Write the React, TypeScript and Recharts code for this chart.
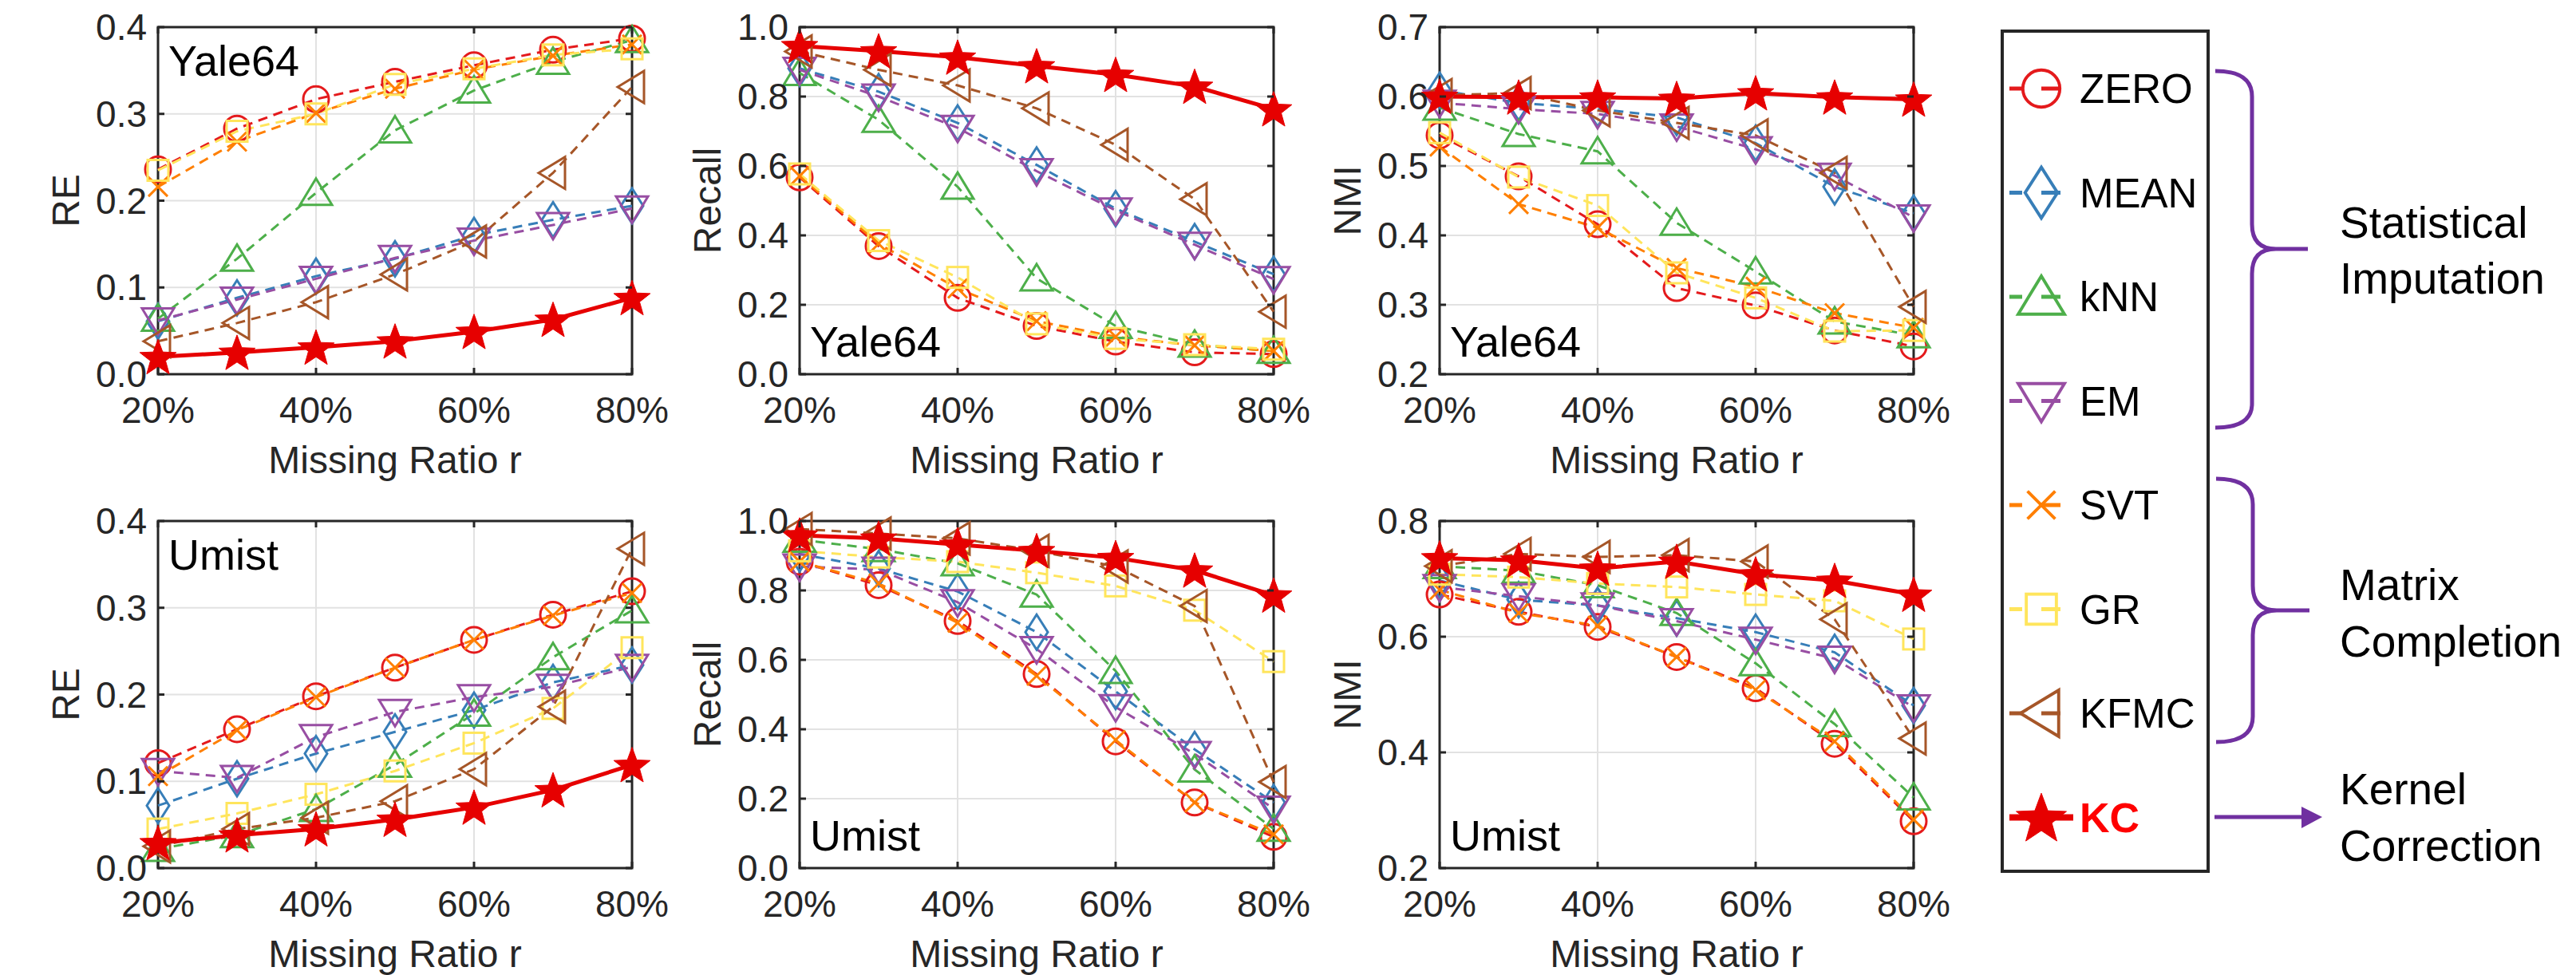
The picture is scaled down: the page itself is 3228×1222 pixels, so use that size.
import React from 'react';
import { LineChart, Line, XAxis, YAxis, CartesianGrid, ReferenceArea } from 'recharts';

// ---------- data ----------
const ratios = [20, 30, 40, 50, 60, 70, 80];
const xTicks = [20, 40, 60, 80];
const methodNames = ['ZERO', 'MEAN', 'kNN', 'EM', 'SVT', 'GR', 'KFMC', 'KC'];
const methodColors = ['#e41a1c', '#377eb8', '#4daf4a', '#984ea3', '#ff7f00', '#ffe55c', '#a65628', '#e60000'];
const methodShapes = ['circle', 'diamond', 'triUp', 'triDown', 'cross', 'square', 'triLeft', 'star'];

// Yale64 - RE
const yaleRE_ZERO = [0.236, 0.283, 0.317, 0.337, 0.356, 0.374, 0.387];
const yaleRE_MEAN = [0.061, 0.088, 0.113, 0.133, 0.160, 0.178, 0.194];
const yaleRE_kNN = [0.064, 0.133, 0.209, 0.281, 0.327, 0.360, 0.385];
const yaleRE_EM = [0.062, 0.086, 0.110, 0.134, 0.154, 0.172, 0.191];
const yaleRE_SVT = [0.216, 0.268, 0.301, 0.329, 0.351, 0.367, 0.380];
const yaleRE_GR = [0.235, 0.280, 0.300, 0.334, 0.352, 0.368, 0.375];
const yaleRE_KFMC = [0.038, 0.059, 0.083, 0.115, 0.153, 0.232, 0.331];
const yaleRE_KC = [0.020, 0.025, 0.031, 0.038, 0.049, 0.063, 0.088];

// Yale64 - Recall
const yaleRec_ZERO = [0.567, 0.369, 0.220, 0.139, 0.094, 0.063, 0.058];
const yaleRec_MEAN = [0.881, 0.814, 0.724, 0.603, 0.477, 0.382, 0.288];
const yaleRec_kNN = [0.868, 0.733, 0.540, 0.276, 0.139, 0.085, 0.067];
const yaleRec_EM = [0.877, 0.800, 0.710, 0.585, 0.472, 0.373, 0.274];
const yaleRec_SVT = [0.571, 0.376, 0.247, 0.153, 0.108, 0.083, 0.067];
const yaleRec_GR = [0.577, 0.385, 0.279, 0.145, 0.103, 0.085, 0.072];
const yaleRec_KFMC = [0.930, 0.877, 0.832, 0.766, 0.661, 0.504, 0.180];
const yaleRec_KC = [0.946, 0.931, 0.913, 0.888, 0.863, 0.829, 0.764];

// Yale64 - NMI
const yaleNMI_ZERO = [0.544, 0.485, 0.416, 0.324, 0.299, 0.263, 0.240];
const yaleNMI_MEAN = [0.609, 0.591, 0.582, 0.570, 0.533, 0.470, 0.432];
const yaleNMI_kNN = [0.584, 0.546, 0.521, 0.418, 0.348, 0.276, 0.256];
const yaleNMI_EM = [0.591, 0.582, 0.575, 0.557, 0.524, 0.486, 0.426];
const yaleNMI_SVT = [0.528, 0.445, 0.411, 0.353, 0.326, 0.288, 0.267];
const yaleNMI_GR = [0.548, 0.484, 0.443, 0.346, 0.310, 0.262, 0.263];
const yaleNMI_KFMC = [0.602, 0.605, 0.580, 0.562, 0.544, 0.490, 0.297];
const yaleNMI_KC = [0.600, 0.599, 0.599, 0.597, 0.605, 0.599, 0.596];

// Umist - RE
const umistRE_ZERO = [0.121, 0.160, 0.198, 0.231, 0.263, 0.292, 0.319];
const umistRE_MEAN = [0.072, 0.103, 0.132, 0.157, 0.182, 0.214, 0.234];
const umistRE_kNN = [0.022, 0.038, 0.068, 0.119, 0.178, 0.243, 0.297];
const umistRE_EM = [0.112, 0.104, 0.151, 0.180, 0.197, 0.209, 0.232];
const umistRE_SVT = [0.106, 0.159, 0.197, 0.231, 0.263, 0.291, 0.317];
const umistRE_GR = [0.045, 0.063, 0.085, 0.112, 0.144, 0.184, 0.254];
const umistRE_KFMC = [0.025, 0.045, 0.058, 0.077, 0.114, 0.186, 0.368];
const umistRE_KC = [0.029, 0.038, 0.045, 0.056, 0.070, 0.090, 0.119];

// Umist - Recall
const umistRec_ZERO = [0.883, 0.815, 0.712, 0.559, 0.365, 0.189, 0.090];
const umistRec_MEAN = [0.905, 0.863, 0.797, 0.680, 0.509, 0.342, 0.189];
const umistRec_kNN = [0.946, 0.919, 0.878, 0.788, 0.568, 0.284, 0.113];
const umistRec_EM = [0.869, 0.860, 0.766, 0.631, 0.464, 0.329, 0.171];
const umistRec_SVT = [0.883, 0.820, 0.707, 0.554, 0.369, 0.189, 0.097];
const umistRec_GR = [0.914, 0.896, 0.883, 0.851, 0.813, 0.743, 0.595];
const umistRec_KFMC = [0.977, 0.964, 0.950, 0.914, 0.869, 0.755, 0.248];
const umistRec_KC = [0.959, 0.950, 0.932, 0.914, 0.894, 0.858, 0.786];

// Umist - NMI
const umistNMI_ZERO = [0.673, 0.643, 0.617, 0.565, 0.511, 0.415, 0.281];
const umistNMI_MEAN = [0.697, 0.664, 0.654, 0.632, 0.608, 0.573, 0.481];
const umistNMI_kNN = [0.722, 0.714, 0.689, 0.641, 0.554, 0.449, 0.322];
const umistNMI_EM = [0.686, 0.670, 0.654, 0.627, 0.595, 0.562, 0.478];
const umistNMI_SVT = [0.681, 0.641, 0.619, 0.565, 0.508, 0.419, 0.284];
const umistNMI_GR = [0.708, 0.703, 0.692, 0.686, 0.673, 0.662, 0.596];
const umistNMI_KFMC = [0.722, 0.743, 0.738, 0.741, 0.730, 0.630, 0.424];
const umistNMI_KC = [0.736, 0.732, 0.718, 0.730, 0.708, 0.697, 0.673];

const reTicks = [0, 0.1, 0.2, 0.3, 0.4];
const recallTicks = [0, 0.2, 0.4, 0.6, 0.8, 1.0];
const yaleNmiTicks = [0.2, 0.3, 0.4, 0.5, 0.6, 0.7];
const umistNmiTicks = [0.2, 0.4, 0.6, 0.8];

// ---------- styles ----------
const FONT = "'Liberation Sans', Arial, Helvetica, sans-serif";
const AXIS = '#262626';
const PURPLE = '#7030a0';
const PLOT_LEFT = 198;
const PLOT_TOP = 34;
const PLOT_W = 594;
const PLOT_H = 435;
const CHART_W = 804;
const CHART_H = 600;

const panels = [
  { metric: 'RE', dataset: 'Yale64', series: [yaleRE_ZERO, yaleRE_MEAN, yaleRE_kNN, yaleRE_EM, yaleRE_SVT, yaleRE_GR, yaleRE_KFMC, yaleRE_KC], ticks: reTicks, left: 198, top: 34, namePos: 'top' },
  { metric: 'Recall', dataset: 'Yale64', series: [yaleRec_ZERO, yaleRec_MEAN, yaleRec_kNN, yaleRec_EM, yaleRec_SVT, yaleRec_GR, yaleRec_KFMC, yaleRec_KC], ticks: recallTicks, left: 1002, top: 34, namePos: 'bottom' },
  { metric: 'NMI', dataset: 'Yale64', series: [yaleNMI_ZERO, yaleNMI_MEAN, yaleNMI_kNN, yaleNMI_EM, yaleNMI_SVT, yaleNMI_GR, yaleNMI_KFMC, yaleNMI_KC], ticks: yaleNmiTicks, left: 1804, top: 34, namePos: 'bottom' },
  { metric: 'RE', dataset: 'Umist', series: [umistRE_ZERO, umistRE_MEAN, umistRE_kNN, umistRE_EM, umistRE_SVT, umistRE_GR, umistRE_KFMC, umistRE_KC], ticks: reTicks, left: 198, top: 653, namePos: 'top' },
  { metric: 'Recall', dataset: 'Umist', series: [umistRec_ZERO, umistRec_MEAN, umistRec_kNN, umistRec_EM, umistRec_SVT, umistRec_GR, umistRec_KFMC, umistRec_KC], ticks: recallTicks, left: 1002, top: 653, namePos: 'bottom' },
  { metric: 'NMI', dataset: 'Umist', series: [umistNMI_ZERO, umistNMI_MEAN, umistNMI_kNN, umistNMI_EM, umistNMI_SVT, umistNMI_GR, umistNMI_KFMC, umistNMI_KC], ticks: umistNmiTicks, left: 1804, top: 653, namePos: 'bottom' },
];

function starPoints(cx: number, cy: number, R: number, r: number) {
  const pts: string[] = [];
  for (let i = 0; i < 10; i++) {
    const ang = -Math.PI / 2 + (i * Math.PI) / 5;
    const rad = i % 2 === 0 ? R : r;
    pts.push(`${cx + rad * Math.cos(ang)},${cy + rad * Math.sin(ang)}`);
  }
  return pts.join(' ');
}

function Marker({ shape, cx, cy, color, s = 1 }: any) {
  const sw = 3 * (s > 1 ? 1.3 : 1);
  const common = { fill: 'none', stroke: color, strokeWidth: sw };
  switch (shape) {
    case 'circle':
      return <circle cx={cx} cy={cy} r={16 * s} {...common} />;
    case 'diamond':
      return <polygon points={`${cx},${cy - 22 * s} ${cx + 14 * s},${cy} ${cx},${cy + 22 * s} ${cx - 14 * s},${cy}`} {...common} />;
    case 'triUp':
      return <polygon points={`${cx},${cy - 18 * s} ${cx + 20 * s},${cy + 15 * s} ${cx - 20 * s},${cy + 15 * s}`} {...common} />;
    case 'triDown':
      return <polygon points={`${cx},${cy + 18 * s} ${cx + 20 * s},${cy - 15 * s} ${cx - 20 * s},${cy - 15 * s}`} {...common} />;
    case 'triLeft':
      return <polygon points={`${cx - 18 * s},${cy} ${cx + 15 * s},${cy - 20 * s} ${cx + 15 * s},${cy + 20 * s}`} {...common} />;
    case 'square':
      return <rect x={cx - 13 * s} y={cy - 13 * s} width={26 * s} height={26 * s} {...common} />;
    case 'cross':
      return (
        <g stroke={color} strokeWidth={sw}>
          <line x1={cx - 12 * s} y1={cy - 12 * s} x2={cx + 12 * s} y2={cy + 12 * s} />
          <line x1={cx - 12 * s} y1={cy + 12 * s} x2={cx + 12 * s} y2={cy - 12 * s} />
        </g>
      );
    case 'star':
      return <polygon points={starPoints(cx, cy + 2 * s, 24 * s, 10 * s)} fill={color} stroke={color} strokeWidth={1} />;
    default:
      return null;
  }
}

const yTick = (props: any) => {
  const { x, y, payload } = props;
  return (
    <g>
      <line x1={x} x2={x + 8} y1={y} y2={y} stroke={AXIS} strokeWidth={3} />
      <line x1={x + PLOT_W} x2={x + PLOT_W - 8} y1={y} y2={y} stroke={AXIS} strokeWidth={3} />
      <text x={x - 14} y={y + 16} textAnchor="end" fontSize={46} fontFamily={FONT} fill={AXIS}>
        {Number(payload.value).toFixed(1)}
      </text>
    </g>
  );
};

const xTick = (props: any) => {
  const { x, y, payload } = props;
  return (
    <g>
      <line x1={x} x2={x} y1={y} y2={y - 8} stroke={AXIS} strokeWidth={3} />
      <line x1={x} x2={x} y1={y - PLOT_H} y2={y - PLOT_H + 8} stroke={AXIS} strokeWidth={3} />
      <text x={x} y={y + 61} textAnchor="middle" fontSize={46} fontFamily={FONT} fill={AXIS}>
        {`${payload.value}%`}
      </text>
    </g>
  );
};

function Panel({ cfg }: any) {
  const rows = ratios.map((r, i) => {
    const row: any = { r };
    methodNames.forEach((m, k) => {
      row[m] = cfg.series[k][i];
    });
    return row;
  });
  const lo = cfg.ticks[0];
  const hi = cfg.ticks[cfg.ticks.length - 1];
  return (
    <div style={{ position: 'absolute', left: cfg.left - PLOT_LEFT, top: cfg.top - PLOT_TOP, width: CHART_W, height: CHART_H }}>
      <LineChart
        width={CHART_W}
        height={CHART_H}
        data={rows}
        margin={{ top: PLOT_TOP, right: CHART_W - PLOT_LEFT - PLOT_W, bottom: 0, left: 0 }}
      >
        <CartesianGrid stroke="#e2e2e2" strokeWidth={2} />
        <XAxis
          dataKey="r"
          type="number"
          domain={[20, 80]}
          ticks={xTicks}
          interval={0}
          height={CHART_H - PLOT_TOP - PLOT_H}
          tick={xTick}
          tickLine={false}
          axisLine={false}
          tickSize={0}
          tickMargin={0}
          label={{ value: 'Missing Ratio r', position: 'insideBottom', offset: 7, fontSize: 48, fontFamily: FONT, fill: AXIS }}
        />
        <YAxis
          type="number"
          domain={[lo, hi]}
          ticks={cfg.ticks}
          interval={0}
          width={PLOT_LEFT}
          tick={yTick}
          tickLine={false}
          axisLine={false}
          tickSize={0}
          tickMargin={0}
          label={{ value: cfg.metric, angle: -90, position: 'insideLeft', offset: 82, fontSize: 48, fontFamily: FONT, fill: AXIS, style: { textAnchor: 'middle' } }}
        />
        <ReferenceArea x1={20} x2={80} y1={lo} y2={hi} fill="none" fillOpacity={0} stroke={AXIS} strokeWidth={3} ifOverflow="visible" />
        {methodNames.map((m, k) => (
          <Line
            key={m}
            dataKey={m}
            type="linear"
            stroke={methodColors[k]}
            strokeWidth={m === 'KC' ? 5 : 3}
            strokeDasharray={m === 'KC' ? undefined : '12 8'}
            isAnimationActive={false}
            activeDot={false}
            dot={(p: any) => (
              <Marker key={`${m}-${p.index}`} shape={methodShapes[k]} cx={p.cx} cy={p.cy} color={methodColors[k]} />
            )}
          />
        ))}
      </LineChart>
    </div>
  );
}

function Overlay() {
  const rowY = (i: number) => 111 + i * 130.5;
  return (
    <svg width={3228} height={1222} style={{ position: 'absolute', left: 0, top: 0 }} fontFamily={FONT}>
      {panels.map((p, i) => (
        <text
          key={i}
          x={p.left + 13}
          y={p.namePos === 'top' ? p.top + 61 : p.top + PLOT_H - 22}
          fontSize={54}
          fill="#000"
        >
          {p.dataset}
        </text>
      ))}
      <rect x={2509} y={39} width={258} height={1053} fill="#fff" stroke={AXIS} strokeWidth={4} />
      {methodNames.map((m, i) => {
        const cy = rowY(i);
        const isKC = m === 'KC';
        return (
          <g key={m}>
            {isKC ? (
              <line x1={2518} x2={2598} y1={cy} y2={cy} stroke={methodColors[i]} strokeWidth={8} />
            ) : (
              <line x1={2518} x2={2582} y1={cy} y2={cy} stroke={methodColors[i]} strokeWidth={5} strokeDasharray="16 24 24 100" />
            )}
            <Marker shape={methodShapes[i]} cx={2558} cy={cy} color={methodColors[i]} s={isKC ? 1.38 : 1.45} />
            <text
              x={2606}
              y={cy + 18}
              fontSize={isKC ? 52 : 51}
              fontWeight={isKC ? 'bold' : 'normal'}
              fill={isKC ? '#ff0000' : '#000'}
            >
              {m}
            </text>
          </g>
        );
      })}
      <path
        d="M2776,89 Q2822,89 2822,121 L2822,281 Q2822,312 2852,312 L2892,312 M2852,312 Q2822,312 2822,343 L2822,506 Q2822,536 2776,536"
        fill="none"
        stroke={PURPLE}
        strokeWidth={5}
      />
      <path
        d="M2777,600 Q2823,600 2823,632 L2823,734 Q2823,765 2853,765 L2894,765 M2853,765 Q2823,765 2823,796 L2823,898 Q2823,930 2777,930"
        fill="none"
        stroke={PURPLE}
        strokeWidth={5}
      />
      <line x1={2775} x2={2888} y1={1024} y2={1024} stroke={PURPLE} strokeWidth={5} />
      <polygon points="2884,1011 2910,1024 2884,1038" fill={PURPLE} />
      <g fontSize={55} fill="#000">
        <text x={2932} y={298}>Statistical</text>
        <text x={2932} y={368}>Imputation</text>
        <text x={2932} y={752}>Matrix</text>
        <text x={2932} y={823}>Completion</text>
        <text x={2932} y={1008}>Kernel</text>
        <text x={2932} y={1079}>Correction</text>
      </g>
    </svg>
  );
}

export default function App() {
  return (
    <div style={{ position: 'absolute', left: 0, top: 0, width: 3228, height: 1222, background: '#fff', overflow: 'hidden' }}>
      <style>{`.recharts-surface{overflow:visible}`}</style>
      <Overlay />
      {panels.map((p, i) => (
        <Panel key={i} cfg={p} />
      ))}
    </div>
  );
}
